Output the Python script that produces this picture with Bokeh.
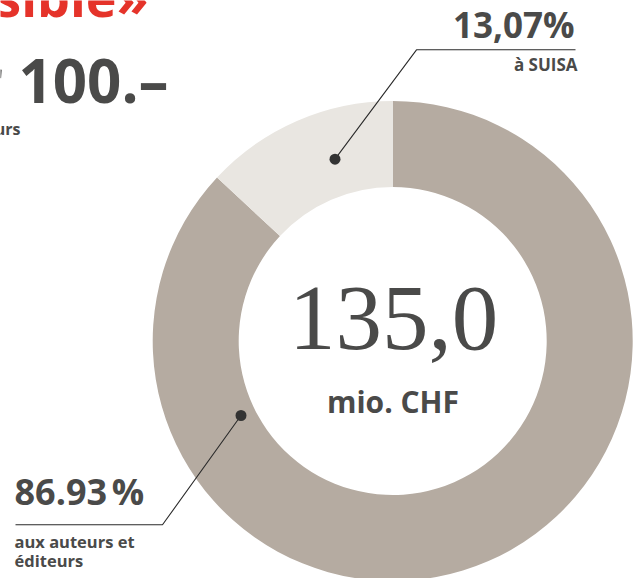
import math
from bokeh.plotting import figure
from bokeh.models import Range1d, Label
from bokeh.embed import file_html
from bokeh.resources import INLINE

# ---- data ----
categories = ["aux auteurs et éditeurs", "à SUISA"]
shares = [86.93, 13.07]
pct_labels = ["86.93\u202f%", "13,07%"]
total_label = "135,0"
total_unit = "mio. CHF"

W, H = 638, 578
def Y(py):
    return H - py

p = figure(width=W, height=H, output_backend="svg", toolbar_location=None,
           x_range=Range1d(0, W), y_range=Range1d(0, H), min_border=0)
p.axis.visible = False
p.grid.visible = False
p.outline_line_color = None
p.background_fill_color = "white"
p.border_fill_color = "white"

cx, cy = 392.2, Y(340.5)
r_in, r_out = 154, 240
colors = ["#b5aba1", "#e9e6e1"]

# SUISA starts at 12 o'clock going anticlockwise, authors take the rest
suisa_deg = shares[1] / sum(shares) * 360.0
start = [math.radians(90 + suisa_deg), math.radians(90)]
end = [math.radians(450), math.radians(90 + suisa_deg)]
p.annular_wedge(x=[cx, cx], y=[cy, cy], inner_radius=r_in, outer_radius=r_out,
                start_angle=start, end_angle=end, fill_color=colors,
                line_color=None, direction="anticlock")

TXT = "#4a4a49"
FONT = "Open Sans"

# leader: SUISA
d1 = (334.5, 158.7)
p.line(x=[d1[0], 416, 575], y=[Y(d1[1]), Y(49.3), Y(49.3)], line_color="#2b2b2b", line_width=1.1)
# leader: authors
d2 = (240.5, 415)
p.line(x=[d2[0], 162, 15], y=[Y(d2[1]), Y(524.3), Y(524.3)], line_color="#2b2b2b", line_width=1.1)
p.scatter(x=[d1[0], d2[0]], y=[Y(d1[1]), Y(d2[1])], size=11, fill_color="#333333", line_color=None)

def lab(text, x, py, size, align="left", color=TXT, font=FONT, style="bold", k=0.42):
    # py = desired baseline in pixels from top; k corrects renderer baseline offset
    p.add_layout(Label(x=x, y=Y(py - k * size), text=text, text_font=font,
                       text_font_size=f"{size}px", text_font_style=style,
                       text_color=color, text_align=align, text_baseline="alphabetic"))

lab(pct_labels[1], 574, 38.5, 35, "right")
lab("à SUISA", 577, 71.5, 17, "right")
lab(pct_labels[0], 14, 506.5, 36, "left")
lab("aux auteurs et", 14, 548, 16.5, "left")
lab("éditeurs", 14, 567, 16.5, "left")

lab(total_label, 393, 352, 93, "center", font="Liberation Serif", style="normal", k=0.37)
lab(total_unit, 392.5, 413.5, 30, "center")

# cropped header texts
lab("sible»", 148, 18, 52, "right", color="#e5332a")
lab("r 100.–", 168, 105, 60, "right")
lab("urs", 20, 135, 16, "right")

open("out.html", "w").write(file_html(p, INLINE))
